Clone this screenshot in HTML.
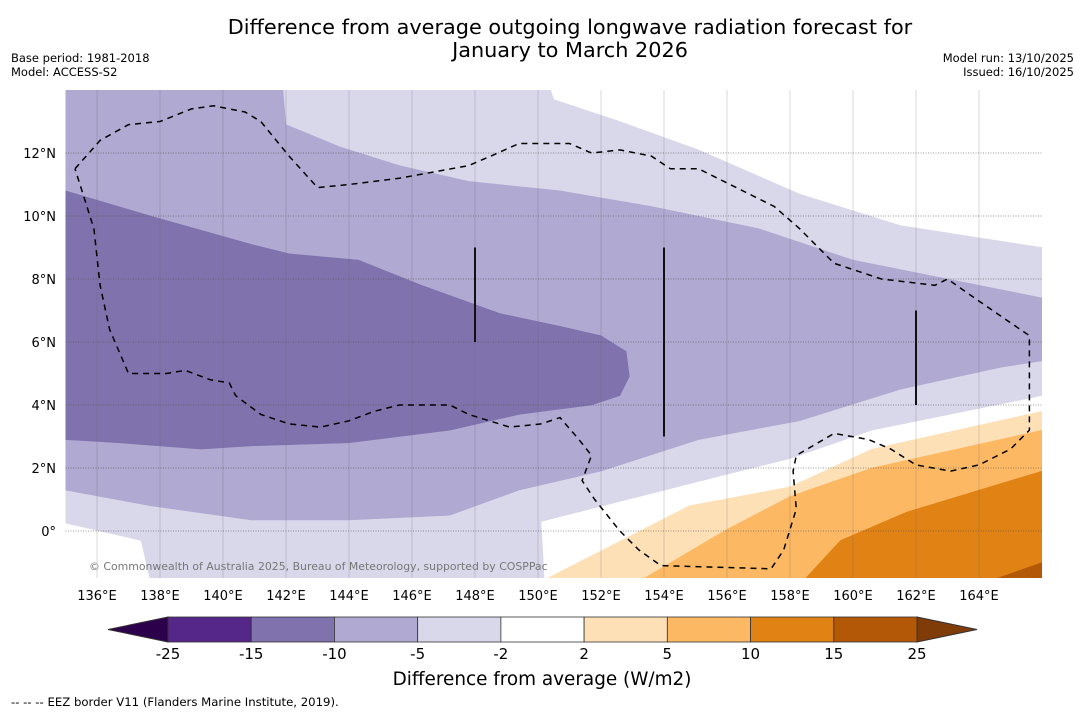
<!DOCTYPE html>
<html><head><meta charset="utf-8"><style>
body{margin:0;background:#fff;width:1085px;height:713px;overflow:hidden;font-family:"DejaVu Sans","Liberation Sans",sans-serif}
svg{position:absolute;left:0;top:0;font-family:"DejaVu Sans","Liberation Sans",sans-serif}
</style></head><body>
<svg id="chart" width="1085" height="713">
<defs><clipPath id="mapclip"><rect x="65.5" y="90" width="976.5" height="488"/></clipPath></defs>
<text x="570" y="34" text-anchor="middle" font-size="20.8">Difference from average outgoing longwave radiation forecast for</text>
<text x="570" y="57" text-anchor="middle" font-size="20.8">January to March 2026</text>
<text x="11" y="62" font-size="11.5">Base period: 1981-2018</text>
<text x="11" y="76" font-size="11.5">Model: ACCESS-S2</text>
<text x="1074" y="62" font-size="11.5" text-anchor="end">Model run: 13/10/2025</text>
<text x="1074" y="76" font-size="11.5" text-anchor="end">Issued: 16/10/2025</text>
<g id="map" clip-path="url(#mapclip)"></g>
<g id="grid"></g>
<g id="axes"></g>
<text x="89" y="570" font-size="10.9" fill="#777">© Commonwealth of Australia 2025, Bureau of Meteorology, supported by COSPPac</text>
<g id="cbar"></g>
<text x="542" y="685" text-anchor="middle" font-size="18.4">Difference from average (W/m2)</text>
<text x="11" y="706" font-size="11.7">--  --  -- EEZ border V11 (Flanders Marine Institute, 2019).</text>
</svg>
<script>
const lonTicks=[136,138,140,142,144,146,148,150,152,154,156,158,160,162,164];
const latTicks=[12,10,8,6,4,2,0];
const cbLevels=["-25","-15","-10","-5","-2","2","5","10","15","25"];
const cbColors=["#542788","#7f72ad","#b0a9d1","#d8d8ea","#ffffff","#fee0b6","#fdb863","#e08214","#b35806"];
const lightLav=[[135,14],[150.4,14],[150.5,13.7],[152.6,13.0],[155.1,12.1],[158.3,10.7],[161.5,9.7],[164.7,9.2],[166,9.0],[166,4.3],[160.6,3.2],[158,2.3],[156,1.8],[150.1,0.3],[150.2,-1.6],[137.7,-1.6],[137.4,-0.3],[135,0.25]];
const medLav=[[135,14],[141.9,14],[142.0,12.9],[143.7,12.2],[145.6,11.6],[147.8,11.1],[150.7,10.8],[153.6,10.3],[157,9.6],[160,8.6],[163,8.0],[166,7.4],[166,5.4],[164.7,5.2],[161.5,4.5],[158.3,3.5],[155.1,2.9],[152,1.9],[149.4,1.3],[147.2,0.5],[144,0.35],[140.9,0.35],[137.7,0.8],[135,1.3]];
const darkLav=[[135,10.8],[137.7,10.0],[140.9,9.1],[142.1,8.8],[144.3,8.6],[146.3,7.8],[148.8,6.9],[150.7,6.5],[152,6.2],[152.8,5.7],[152.9,4.9],[152.6,4.3],[151.7,4.0],[149.4,3.7],[147.2,3.2],[144,2.8],[140.9,2.7],[139.3,2.6],[136.7,2.8],[135,2.9]];
const lightOr=[[150.1,-1.6],[154.8,0.8],[158,1.4],[160.6,2.6],[166,3.8],[166,-1.6]];
const midOr=[[153.2,-1.6],[155.9,0.0],[158,1.1],[160.6,2.0],[166,3.2],[166,-1.6]];
const darkOr=[[158.4,-1.6],[159.6,-0.3],[161.7,0.6],[166,1.9],[166,-1.6]];
const darkestOr=[[164.3,-1.6],[166,-1.0],[166,-1.6]];
const eez=[[135.3,11.5],[136.1,12.4],[137.0,12.9],[138.0,13.0],[139.0,13.4],[139.7,13.5],[140.7,13.3],[141.2,13.0],[142.1,11.9],[143.0,10.9],[144.0,11.0],[145.6,11.2],[147.8,11.6],[148.5,11.9],[149.4,12.3],[150.2,12.3],[151.0,12.3],[151.7,12.0],[152.6,12.1],[153.6,11.9],[154.2,11.5],[155.1,11.5],[156.1,11.0],[157.5,10.3],[158.3,9.6],[159.4,8.5],[160.9,8.0],[162.6,7.8],[163.0,8.0],[164.0,7.3],[165.6,6.2],[165.6,3.2],[165.0,2.6],[164.0,2.1],[163.1,1.9],[162.0,2.1],[161.2,2.6],[160.5,2.9],[159.4,3.1],[158.2,2.4],[158.1,1.9],[158.2,0.7],[157.8,-0.6],[157.4,-1.2],[153.9,-1.1],[153.2,-0.6],[152.6,0.0],[151.8,1.0],[151.4,1.6],[151.7,2.4],[151.3,2.9],[150.7,3.6],[150.1,3.4],[149.1,3.3],[147.8,3.7],[147.2,4.0],[145.6,4.0],[144.8,3.8],[144.0,3.5],[143.1,3.3],[142.1,3.4],[141.2,3.7],[140.4,4.3],[140.2,4.7],[139.6,4.8],[138.8,5.1],[138.2,5.0],[137.0,5.0],[136.4,6.4],[136.1,7.8],[135.9,9.6],[135.3,11.5]];
const bounds=[[148,6,9],[154,3,9],[162,4,7]];
const NS='http://www.w3.org/2000/svg';
const X=lon=>65.5+(lon-135)*31.5;
const Y=lat=>531-lat*31.5;
function mk(tag,attrs,parent){const e=document.createElementNS(NS,tag);for(const k in attrs)e.setAttribute(k,attrs[k]);parent.appendChild(e);return e;}
const map=document.getElementById('map');
const pts=a=>a.map(p=>X(p[0]).toFixed(1)+','+Y(p[1]).toFixed(1)).join(' ');
let e=mk('rect',{x:65.5,y:90,width:977,height:488,fill:'#fff'},map);


const layers=[[lightLav,cbColors[3],'region-minus2-to-minus5'],[medLav,cbColors[2],'region-minus5-to-minus10'],[darkLav,cbColors[1],'region-minus10-to-minus15'],[lightOr,cbColors[5],'region-2-to-5'],[midOr,cbColors[6],'region-5-to-10'],[darkOr,cbColors[7],'region-10-to-15'],[darkestOr,cbColors[8],'region-15-to-25']];
layers.forEach(l=>{
  const p=mk('polygon',{points:pts(l[0]),fill:l[1],stroke:l[1],'stroke-width':0.5},map);
  
  
});
const grid=document.getElementById('grid');
lonTicks.forEach(lon=>{
  const l=mk('line',{x1:X(lon),x2:X(lon),y1:90,y2:578,stroke:'#666','stroke-opacity':0.3,'stroke-width':0.8},grid);
  
  
});
latTicks.forEach(lat=>{
  const l=mk('line',{x1:65.5,x2:1042,y1:Y(lat),y2:Y(lat),stroke:'#555','stroke-width':1,'stroke-dasharray':'1,1.5','stroke-opacity':0.6},grid);
  
  
});
const ez=mk('polyline',{points:pts(eez),fill:'none',stroke:'#000','stroke-width':1.5,'stroke-dasharray':'6,5'},grid);


bounds.forEach(b=>{
  const l=mk('line',{x1:X(b[0]),x2:X(b[0]),y1:Y(b[2]),y2:Y(b[1]),stroke:'#111','stroke-width':2},grid);
  
  
});
const axes=document.getElementById('axes');
lonTicks.forEach(lon=>{
  const t=mk('text',{x:X(lon),y:600,'text-anchor':'middle','font-size':13},axes);
  t.textContent=lon+'°E';
  
  
});
latTicks.forEach(lat=>{
  const t=mk('text',{x:56,y:Y(lat)+5,'text-anchor':'end','font-size':13},axes);
  t.textContent=lat===0?'0°':lat+'°N';
  
  
});
const cb=document.getElementById('cbar');
const cx0=168,cx1=917,cy=617,ch=25,w=(cx1-cx0)/cbColors.length;
let tri=mk('polygon',{points:`${cx0},${cy} ${cx0},${cy+ch} 108,${cy+ch/2}`,fill:'#2d004b',stroke:'#333'},cb);


tri=mk('polygon',{points:`${cx1},${cy} ${cx1},${cy+ch} 977,${cy+ch/2}`,fill:'#7f3b08',stroke:'#333'},cb);


cbColors.forEach((c,i)=>{
  const r=mk('rect',{x:cx0+i*w,y:cy,width:w,height:ch,fill:c,stroke:'#333','stroke-width':0.8},cb);
  
  
});
cbLevels.forEach((s,i)=>{
  const t=mk('text',{x:cx0+i*w,y:659,'text-anchor':'middle','font-size':15},cb);
  t.textContent=s;
  
  
});
</script>
</body></html>
